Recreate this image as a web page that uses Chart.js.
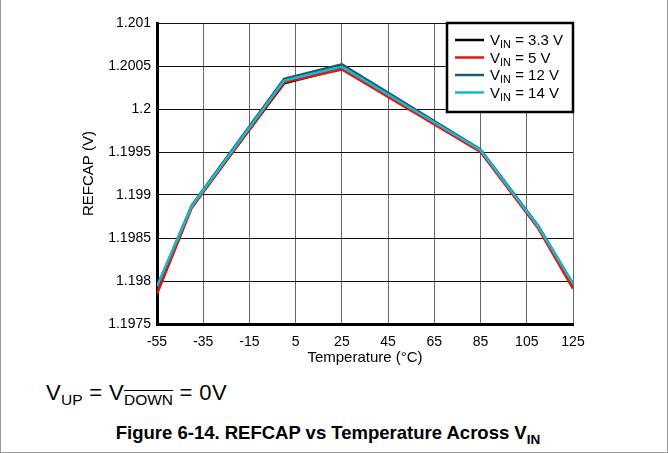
<!DOCTYPE html>
<html>
<head>
<meta charset="utf-8">
<script src="https://cdn.jsdelivr.net/npm/chart.js@4"></script>
<style>
  html, body { margin: 0; padding: 0; background: #fff; }
  #frame { position: relative; width: 666px; height: 452px; border: 1px solid #9a9a9a; border-top: none; overflow: hidden; font-family: "Liberation Sans", Arial, sans-serif; }
  #c { position: absolute; left: -1px; top: 0; }
  .cond { position: absolute; left: 45px; top: 380px; font-size: 22px; letter-spacing: 0.4px; color: #000; white-space: nowrap; }
  .cond sub { font-size: 15.5px; vertical-align: -5px; letter-spacing: 0; }
  .ol { text-decoration: overline; }
  .cap { position: absolute; left: -6px; width: 666px; top: 422px; text-align: center; font-size: 18.5px; font-weight: bold; color: #000; white-space: nowrap; }
  .cap sub { font-size: 13.5px; vertical-align: -5px; }
</style>
</head>
<body>
<div id="frame">
  <canvas id="c" width="668" height="370"></canvas>
  <div class="cond">V<sub>UP</sub> = V<sub><span class="ol">DOWN</span></sub> = 0V</div>
  <div class="cap">Figure 6-14. REFCAP vs Temperature Across V<sub>IN</sub></div>
</div>
<script>
// ---- data ----
const temperatures = [-55, -40, 0, 25, 85, 110, 125];
const vin33 = [1.19786, 1.19886, 1.20030, 1.20047, 1.19951, 1.19862, 1.19792];
const vin5  = [1.19785, 1.19885, 1.20031, 1.20046, 1.19950, 1.19861, 1.19791];
const vin12 = [1.19793, 1.19888, 1.20035, 1.20052, 1.19953, 1.19864, 1.19797];
const vin14 = [1.19794, 1.19887, 1.20033, 1.20049, 1.19952, 1.19863, 1.19797];
const seriesNames = ["3.3 V", "5 V", "12 V", "14 V"];
const xTicks = [-55, -35, -15, 5, 25, 45, 65, 85, 105, 125];
const yTicks = [1.1975, 1.198, 1.1985, 1.199, 1.1995, 1.2, 1.2005, 1.201];
const yTickLabels = ["1.1975", "1.198", "1.1985", "1.199", "1.1995", "1.2", "1.2005", "1.201"];

const colors = ["#000000", "#ee1111", "#1b5b6b", "#18b9cc"];
const seriesData = [vin33, vin5, vin12, vin14];

const FONT = '"Liberation Sans", Arial, sans-serif';

const datasets = seriesData.map((arr, i) => ({
  label: "VIN = " + seriesNames[i],
  data: temperatures.map((t, k) => ({ x: t, y: arr[k] })),
  borderColor: colors[i],
  backgroundColor: colors[i],
  borderWidth: 2.5,
  pointRadius: 0,
  tension: 0,
  order: 3 - i
}));

const legendPlugin = {
  id: 'subLegend',
  afterDraw(chart) {
    const ctx = chart.ctx;
    const area = chart.chartArea;
    const bx = 447, by = area.top, bw = area.right - 447, bh = 89;
    ctx.save();
    ctx.fillStyle = '#fff';
    ctx.fillRect(bx, by, bw, bh);
    ctx.lineWidth = 2.5;
    ctx.strokeStyle = '#000';
    ctx.strokeRect(bx, by, bw, bh);
    const rows = [40, 57.5, 75, 92.5];
    chart.data.datasets.forEach((ds, i) => {
      const y = rows[i];
      ctx.strokeStyle = ds.borderColor;
      ctx.lineWidth = 2.5;
      ctx.beginPath();
      ctx.moveTo(455, y);
      ctx.lineTo(484, y);
      ctx.stroke();
      ctx.fillStyle = '#000';
      ctx.textBaseline = 'alphabetic';
      let x = 490;
      ctx.font = '15px ' + FONT;
      ctx.fillText('V', x, y + 5);
      x += ctx.measureText('V').width;
      ctx.font = '11px ' + FONT;
      ctx.fillText('IN', x, y + 8);
      x += ctx.measureText('IN').width;
      ctx.font = '15px ' + FONT;
      ctx.fillText(' = ' + seriesNames[i], x, y + 5);
    });
    ctx.restore();
  }
};

new Chart(document.getElementById('c'), {
  type: 'line',
  data: { datasets },
  options: {
    responsive: false,
    animation: false,
    events: [],
    layout: { padding: { left: 0, top: 23, right: 95, bottom: 0 } },
    plugins: { legend: { display: false }, tooltip: { enabled: false } },
    scales: {
      x: {
        type: 'linear',
        min: -55, max: 125,
        afterBuildTicks: s => { s.ticks = xTicks.map(v => ({ value: v })); },
        afterFit: s => { s.height = 46; },
        ticks: { color: '#000', font: { family: FONT, size: 14 }, padding: 10, maxRotation: 0, autoSkip: false,
                 callback: v => String(v) },
        grid: { color: '#666', lineWidth: 1, drawTicks: false },
        border: { color: '#000', width: 3 },
        title: { display: true, text: 'Temperature (°C)', color: '#000', font: { family: FONT, size: 15 }, padding: { top: 0, bottom: 3 } }
      },
      y: {
        type: 'linear',
        min: 1.1975, max: 1.201,
        afterBuildTicks: s => { s.ticks = yTicks.map(v => ({ value: v })); },
        afterFit: s => { s.width = 157; },
        ticks: { color: '#000', font: { family: FONT, size: 14 }, padding: 6, autoSkip: false,
                 callback: (v, i) => yTickLabels[i] },
        grid: { color: '#111', lineWidth: 1, drawTicks: false },
        border: { color: '#000', width: 3 },
        title: { display: true, text: 'REFCAP (V)', color: '#000', font: { family: FONT, size: 15 }, padding: { top: 80, bottom: 0 } }
      }
    }
  },
  plugins: [legendPlugin]
});
</script>
</body>
</html>
